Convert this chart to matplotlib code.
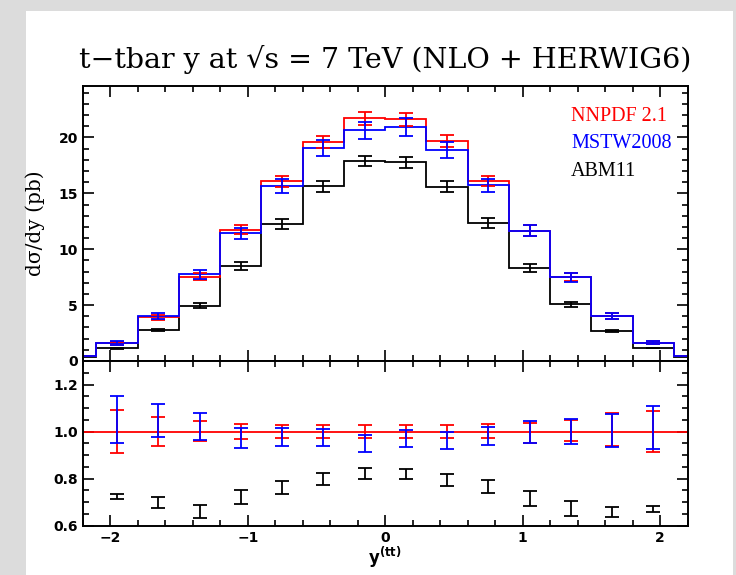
import numpy as np
import matplotlib
matplotlib.use("Agg")
import matplotlib.pyplot as plt
from matplotlib.ticker import MultipleLocator

# bin edges of the rapidity histogram (outer bins only partly visible)
edges = [-2.4, -2.1, -1.8, -1.5, -1.2, -0.9, -0.6, -0.3, 0.0, 0.3, 0.6, 0.9, 1.2, 1.5, 1.8, 2.1, 2.4]

# d sigma / dy in pb, one value per bin
nnpdf = [0.42, 1.58, 3.90, 7.54, 11.75, 16.07, 19.59, 21.70, 21.64, 19.68, 16.10, 11.66, 7.51, 4.05, 1.64, 0.42]
mstw = [0.42, 1.60, 4.05, 7.75, 11.42, 15.68, 19.05, 20.63, 20.96, 18.87, 15.71, 11.66, 7.51, 4.05, 1.64, 0.42]
abm = [0.35, 1.13, 2.74, 4.95, 8.50, 12.25, 15.62, 17.89, 17.77, 15.59, 12.31, 8.32, 5.07, 2.68, 1.16, 0.35]

# error bar half widths in the top panel (inner 14 bins)
nnpdf_err = [0.14, 0.24, 0.32, 0.39, 0.47, 0.52, 0.58, 0.58, 0.53, 0.48, 0.49, 0.35, 0.28, 0.14]
mstw_err = [0.16, 0.27, 0.42, 0.50, 0.62, 0.71, 0.78, 0.79, 0.71, 0.61, 0.52, 0.40, 0.28, 0.15]
abm_err = [0.02, 0.08, 0.21, 0.36, 0.46, 0.48, 0.49, 0.48, 0.49, 0.44, 0.36, 0.23, 0.08, 0.02]

# ratio to NNPDF 2.1 central value
r_nnpdf = [1.001, 1.001, 1.002, 1.000, 1.001, 1.001, 1.001, 1.001, 1.001, 1.001, 0.995, 1.004, 1.008, 1.001]
r_nnpdf_err = [0.090, 0.062, 0.042, 0.033, 0.029, 0.027, 0.027, 0.027, 0.027, 0.030, 0.042, 0.046, 0.070, 0.087]
r_mstw = [1.050, 1.046, 1.022, 0.974, 0.978, 0.975, 0.951, 0.970, 0.961, 0.980, 0.998, 0.999, 1.006, 1.018]
r_mstw_err = [0.100, 0.070, 0.056, 0.043, 0.039, 0.036, 0.036, 0.037, 0.036, 0.038, 0.045, 0.053, 0.070, 0.092]
r_abm = [0.724, 0.699, 0.661, 0.722, 0.763, 0.799, 0.822, 0.821, 0.794, 0.768, 0.715, 0.673, 0.660, 0.671]
r_abm_err = [0.011, 0.022, 0.028, 0.030, 0.029, 0.025, 0.023, 0.022, 0.025, 0.028, 0.031, 0.030, 0.021, 0.011]

labels = ["NNPDF 2.1", "MSTW2008", "ABM11"]
colors = ["red", "blue", "black"]

edges = np.array(edges)
centers = (edges[1:-2] + edges[2:-1]) / 2

fig = plt.figure(figsize=(7.36, 5.75), dpi=100)
fig.patch.set_facecolor("#dcdcdc")
fig.add_artist(plt.Rectangle((26 / 736, 0), 707 / 736, 1 - 11 / 575,
                             transform=fig.transFigure, facecolor="white", edgecolor="none", zorder=0))

ax1 = fig.add_axes([0.1124, 0.3722, 0.822, 0.4782])
ax2 = fig.add_axes([0.1124, 0.0857, 0.822, 0.2865])

tickfont = {"family": "DejaVu Sans", "weight": "bold", "size": 10}
serif = "DejaVu Serif"

for vals, errs, c in [(abm, abm_err, "black"), (nnpdf, nnpdf_err, "red"), (mstw, mstw_err, "blue")]:
    ax1.stairs(vals, edges, color=c, lw=1.3)
    ax1.errorbar(centers, vals[1:-1], yerr=errs, fmt="none", ecolor=c, elinewidth=1.3, capsize=5, capthick=1.3)

ax2.axhline(1.0, color="red", lw=1.3)
for vals, errs, c in [(r_abm, r_abm_err, "black"), (r_nnpdf, r_nnpdf_err, "red"), (r_mstw, r_mstw_err, "blue")]:
    ax2.errorbar(centers, vals, yerr=errs, fmt="none", ecolor=c, elinewidth=1.3, capsize=5, capthick=1.3)

ax1.set_xlim(-2.2, 2.2)
ax1.set_ylim(0, 24.6)
ax2.set_xlim(-2.2, 2.2)
ax2.set_ylim(0.6, 1.3)

ax1.yaxis.set_major_locator(MultipleLocator(5))
ax1.yaxis.set_minor_locator(MultipleLocator(1))
ax2.yaxis.set_major_locator(MultipleLocator(0.2))
ax2.yaxis.set_minor_locator(MultipleLocator(0.05))
for ax in (ax1, ax2):
    ax.xaxis.set_major_locator(MultipleLocator(1))
    ax.xaxis.set_minor_locator(MultipleLocator(0.2))
    ax.tick_params(which="both", direction="in", top=True, right=True, width=1.2)
    ax.tick_params(which="major", length=8)
    ax.tick_params(which="minor", length=4)
    for s in ax.spines.values():
        s.set_linewidth(1.4)

ax1.set_xticklabels([])
ax1.set_yticks([0, 5, 10, 15, 20])
ax1.set_yticklabels(["0", "5", "10", "15", "20"], fontdict=tickfont)
ax2.set_yticks([0.6, 0.8, 1.0, 1.2])
ax2.set_yticklabels(["0.6", "0.8", "1.0", "1.2"], fontdict=tickfont)
ax2.set_xticks([-2, -1, 0, 1, 2])
ax2.set_xticklabels(["\u22122", "\u22121", "0", "1", "2"], fontdict=tickfont)

ax1.set_ylabel("d\u03c3/dy (pb)", family=serif, fontsize=14.5)
ax1.yaxis.set_label_coords(-0.062, 0.5)
ax2.set_xlabel(r"$\mathbf{y^{(tt)}}$", fontsize=12, labelpad=0)

for i, (lab, c) in enumerate(zip(labels, colors)):
    ax1.text(0.807, 0.89 - i * 0.1, lab, color=c, family="Liberation Serif",
             fontsize=14.5, transform=ax1.transAxes, va="center")

fig.text(0.523, 0.8817, "t\u2212tbar y at \u221as = 7 TeV (NLO + HERWIG6)",
         family=serif, fontsize=20.5, ha="center", va="baseline")

fig.savefig("out.png", dpi=100, facecolor=fig.get_facecolor())
